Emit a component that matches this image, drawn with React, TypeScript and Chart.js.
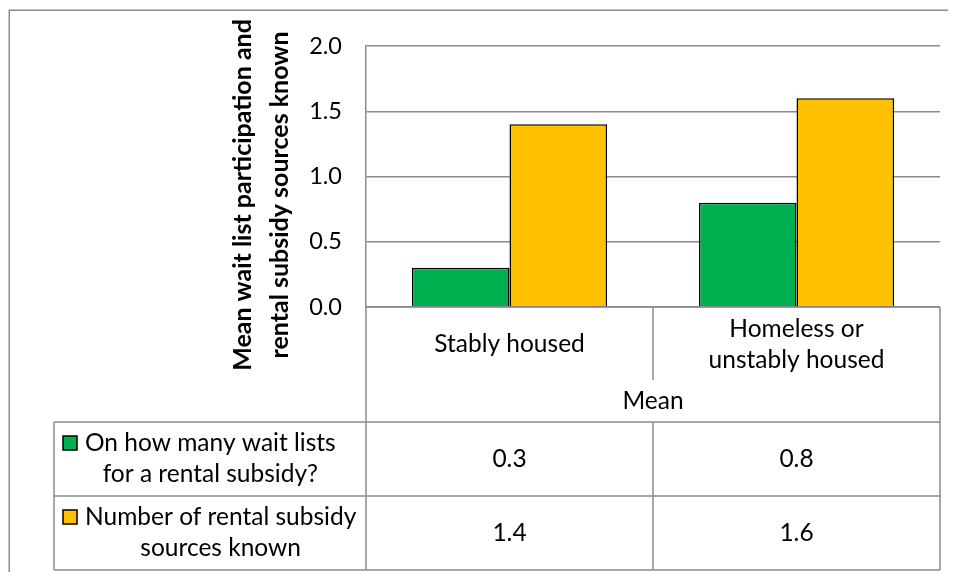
import React, { useEffect, useRef } from "react";
import { Chart, registerables } from "chart.js";

Chart.register(...registerables);

// ---- data ----
const categories = ["Stably housed", "Homeless or unstably housed"];
const categoryLines = [["Stably housed"], ["Homeless or", "unstably housed"]];
const groupLabel = "Mean";
const seriesNames = [
  "On how many wait lists for a rental subsidy?",
  "Number of rental subsidy sources known",
];
const seriesLines = [
  ["On how many wait lists", "for a rental subsidy?"],
  ["Number of rental subsidy", "sources known"],
];
const waitLists = [0.3, 0.8];
const sourcesKnown = [1.4, 1.6];
const yMin = 0;
const yMax = 2;
const yStep = 0.5;
const yTitle = ["Mean wait list participation and", "rental subsidy sources known"];
const seriesColors = ["#00B050", "#FFC000"];

const FONT = "Lato, 'Open Sans', sans-serif";
const FS = 24.5;
const TICK_FS = 23.5;
const TITLE_FS = 25;
const GRID = "#8a8a8a";

const tablePlugin = {
  id: "excelTable",
  beforeDraw(chart: any) {
    const ctx = chart.ctx;
    ctx.save();
    ctx.fillStyle = "#ffffff";
    ctx.fillRect(0, 0, chart.width, chart.height);
    ctx.strokeStyle = GRID;
    ctx.lineWidth = 1.5;
    ctx.beginPath();
    ctx.moveTo(1.25, chart.height + 5);
    ctx.lineTo(1.25, 2.25);
    ctx.lineTo(chart.width + 5, 2.25);
    ctx.stroke();
    ctx.restore();
  },
  afterDraw(chart: any) {
    const { ctx, chartArea: ca, scales } = chart;
    const xs = scales.x;
    const L = ca.left;
    const R = ca.right;
    const T = ca.bottom;
    const hdrB = T + 73;
    const meanB = T + 115;
    const r1B = T + 189;
    const r2B = T + 263;
    const legL = 46;
    const c0 = xs.getPixelForValue(0);
    const c1 = xs.getPixelForValue(1);
    const mid = (c0 + c1) / 2;

    ctx.save();
    ctx.strokeStyle = GRID;
    ctx.lineWidth = 1.5;
    const line = (x1: number, y1: number, x2: number, y2: number) => {
      ctx.beginPath();
      ctx.moveTo(x1, y1);
      ctx.lineTo(x2, y2);
      ctx.stroke();
    };
    line(L, T, R, T);
    line(L, T, L, r2B);
    line(R, T, R, r2B);
    line(mid, T, mid, hdrB);
    line(mid, meanB, mid, r2B);
    line(legL, meanB, R, meanB);
    line(legL, r1B, R, r1B);
    line(legL, r2B, R, r2B);
    line(legL, meanB, legL, r2B);

    ctx.fillStyle = "#000";
    ctx.font = `${FS}px ${FONT}`;
    ctx.textAlign = "center";
    ctx.textBaseline = "middle";
    const centers = categories.map((_, i) => xs.getPixelForValue(i));
    categoryLines.forEach((lines, i) => {
      if (lines.length === 1) {
        ctx.fillText(lines[0], centers[i], T + 37);
      } else {
        lines.forEach((ln, j) => ctx.fillText(ln, centers[i], T + 22 + j * 31));
      }
    });
    ctx.fillText(groupLabel, mid, T + 94);

    const rows = [waitLists, sourcesKnown];
    const rowCenters = [(meanB + r1B) / 2, (r1B + r2B) / 2];
    rows.forEach((vals, r) => {
      vals.forEach((v, i) => ctx.fillText(v.toFixed(1), centers[i], rowCenters[r]));
    });

    seriesLines.forEach((lines, r) => {
      const cy = rowCenters[r];
      const y1 = cy - 16;
      const y2 = cy + 15;
      ctx.fillStyle = seriesColors[r];
      ctx.fillRect(55, y1 - 7, 14, 14);
      ctx.strokeStyle = "#000";
      ctx.lineWidth = 1.5;
      ctx.strokeRect(55, y1 - 7, 14, 14);
      ctx.fillStyle = "#000";
      const w = Math.max(...lines.map((l) => ctx.measureText(l).width));
      const cx = 77 + w / 2;
      ctx.fillText(lines[0], cx, y1);
      ctx.fillText(lines[1], cx, y2);
    });

    ctx.font = `bold ${TITLE_FS}px ${FONT}`;
    const ty = 187;
    [235, 272].forEach((tx, i) => {
      ctx.save();
      ctx.translate(tx, ty);
      ctx.rotate(-Math.PI / 2);
      ctx.fillText(yTitle[i], 0, 0);
      ctx.restore();
    });
    ctx.restore();
  },
};

export default function App() {
  const ref = useRef<HTMLCanvasElement | null>(null);
  useEffect(() => {
    if (!ref.current) return;
    const chart = new Chart(ref.current, {
      type: "bar",
      data: {
        labels: categories,
        datasets: [
          {
            label: seriesNames[0],
            data: waitLists,
            backgroundColor: seriesColors[0],
            borderColor: "#000",
            borderWidth: 1.5,
            categoryPercentage: 0.68,
            barPercentage: 1,
          },
          {
            label: seriesNames[1],
            data: sourcesKnown,
            backgroundColor: seriesColors[1],
            borderColor: "#000",
            borderWidth: 1.5,
            categoryPercentage: 0.68,
            barPercentage: 1,
          },
        ],
      },
      options: {
        animation: false,
        responsive: true,
        maintainAspectRatio: false,
        layout: { padding: { left: 258, right: 16, top: 32, bottom: 265 } },
        plugins: { legend: { display: false }, tooltip: { enabled: false } },
        scales: {
          x: { display: false },
          y: {
            min: yMin,
            max: yMax,
            ticks: {
              stepSize: yStep,
              padding: 24,
              color: "#000",
              font: { family: FONT, size: TICK_FS },
              callback: (v: any) => Number(v).toFixed(1),
            },
            grid: { color: GRID, lineWidth: 1.5, drawTicks: false },
            border: { display: true, color: GRID, width: 1.5 },
            afterFit: (s: any) => {
              s.width = 100;
            },
          },
        },
      },
      plugins: [tablePlugin],
    } as any);
    return () => chart.destroy();
  }, []);
  return (
    <div style={{ position: "relative", width: 948, height: 564, overflow: "hidden" }}>
      <canvas ref={ref} style={{ display: "block" }} />
    </div>
  );
}
